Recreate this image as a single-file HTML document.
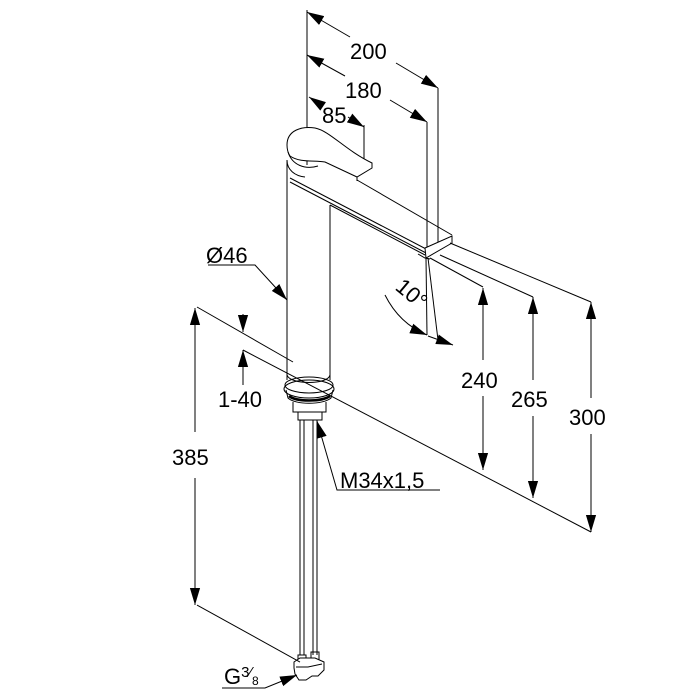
<!DOCTYPE html>
<html><head><style>html,body{margin:0;padding:0;background:#fff}svg{display:block}</style></head>
<body>
<svg width="700" height="700" viewBox="0 0 700 700" xmlns="http://www.w3.org/2000/svg" font-family="Liberation Sans, sans-serif">
<defs>
<marker id="b" viewBox="0 0 10 10" refX="10" refY="5" markerWidth="17" markerHeight="17" markerUnits="userSpaceOnUse" orient="auto-start-reverse"><path d="M0,2 L10,5 L0,8 z" fill="#000"/></marker>
</defs>
<g stroke="#000" stroke-width="1" fill="none">
<line x1="307" y1="10" x2="307" y2="165"/>
<line x1="438" y1="88" x2="438" y2="245"/>
<line x1="427" y1="122" x2="427" y2="250"/>
<line x1="364" y1="125" x2="364" y2="172"/>
<line x1="307" y1="12" x2="350" y2="37" marker-start="url(#b)"/>
<line x1="396" y1="63" x2="438" y2="88" marker-end="url(#b)"/>
<line x1="307" y1="55" x2="345" y2="76" marker-start="url(#b)"/>
<line x1="390" y1="100" x2="427" y2="122" marker-end="url(#b)"/>
<line x1="309" y1="97" x2="318" y2="103" marker-start="url(#b)"/>
<line x1="348" y1="117" x2="364" y2="127" marker-end="url(#b)"/>

<path d="M287,145 C287,130 302,126 315,128 C330,131 345,150 372,163 L372,168 L357,177 L325,162 C315,160 300,163 290,156 C288,153 287,150 287,145 Z" fill="#fff"/>
<path d="M288,152 C292,165 305,170 318,166"/>
<line x1="357" y1="177" x2="357" y2="181"/>
<path d="M287,160 C287,170 295,176 305,177"/>
<line x1="287" y1="160" x2="287" y2="380"/>
<line x1="330" y1="205" x2="330" y2="380"/>
<line x1="290" y1="178" x2="428" y2="250"/>
<line x1="290" y1="182" x2="428" y2="254"/>
<line x1="357" y1="180" x2="452" y2="235"/>
<line x1="330" y1="205" x2="425" y2="255"/>
<path d="M425,248 L452,236 L452,243 L426,258 Z" fill="#fff"/>
<path d="M418,254 L425,258 L430,259"/>
<path d="M287,375 C290,385 328,385 330,375"/>
<ellipse cx="309" cy="385" rx="24" ry="8"/>
<ellipse cx="309" cy="389" rx="25" ry="9"/>
<path d="M286,390 L288,398 C295,405 323,405 331,398 L333,390"/>
<path d="M289,396 C296,402 322,402 330,396" stroke-width="2.5"/>
<path d="M293,402 L293,412 L326,412 L326,402"/>
<path d="M298,412 L298,420 L322,420 L322,412"/>
<line x1="300" y1="420" x2="300" y2="655"/>
<line x1="304" y1="420" x2="304" y2="655"/>
<line x1="313" y1="420" x2="313" y2="655"/>
<line x1="317" y1="420" x2="317" y2="655"/>
<path d="M298,655 L298,662 L306,662 L306,655 Z"/>
<path d="M311,652 L311,660 L319,660 L319,652 Z"/>
<path d="M294,662 L300,658 L315,658 L324,662 L324,670 L318,676 L312,676 L306,680 L299,680 L295,674 L294,668 Z" fill="#fff"/>
<path d="M296,667 L308,667 L322,664"/>

<line x1="430" y1="258" x2="483" y2="287"/>
<line x1="440" y1="255" x2="533" y2="297"/>
<line x1="450" y1="243" x2="591" y2="302"/>
<line x1="243" y1="350" x2="591" y2="532"/>
<line x1="197" y1="307" x2="293" y2="362"/>
<line x1="483" y1="288" x2="483" y2="360" marker-start="url(#b)"/>
<line x1="483" y1="396" x2="483" y2="470" marker-end="url(#b)"/>
<line x1="533" y1="297" x2="533" y2="380" marker-start="url(#b)"/>
<line x1="533" y1="416" x2="533" y2="498" marker-end="url(#b)"/>
<line x1="591" y1="302" x2="591" y2="398" marker-start="url(#b)"/>
<line x1="591" y1="434" x2="591" y2="532" marker-end="url(#b)"/>
<line x1="426" y1="258" x2="427" y2="335"/>
<line x1="428" y1="258" x2="438" y2="340"/>
<path d="M385,295 C395,315 410,328 427,335" marker-end="url(#b)"/>
<line x1="428" y1="336" x2="453" y2="345" marker-end="url(#b)"/>
<line x1="195" y1="308" x2="195" y2="432" marker-start="url(#b)"/>
<line x1="195" y1="478" x2="195" y2="605" marker-end="url(#b)"/>
<line x1="197" y1="605" x2="300" y2="662"/>
<line x1="243" y1="314" x2="243" y2="332" marker-end="url(#b)"/>
<line x1="243" y1="385" x2="243" y2="350" marker-end="url(#b)"/>
<path d="M208,265 L255,265 L287,300" marker-end="url(#b)"/>
<path d="M440,490 L337,490 L317,421" marker-end="url(#b)"/>
<path d="M222,688 L265,688 L297,675" marker-end="url(#b)"/>
</g>
<g font-size="22" fill="#000">
<text x="350" y="59">200</text>
<text x="345" y="98">180</text>
<text x="322" y="123">85</text>
<text x="206" y="263">Ø46</text>
<text x="218" y="407">1-40</text>
<text x="172" y="465">385</text>
<text x="461" y="388">240</text>
<text x="511" y="407">265</text>
<text x="569" y="425">300</text>
<text x="340" y="488">M34x1,5</text>
<text x="224" y="684">G<tspan font-size="15" dy="-7">3</tspan><tspan font-size="15">⁄</tspan><tspan font-size="12" dy="8">8</tspan></text>
<text x="390" y="296" transform="rotate(40 402 298)">10°</text>
</g>
</svg>
</body></html>
